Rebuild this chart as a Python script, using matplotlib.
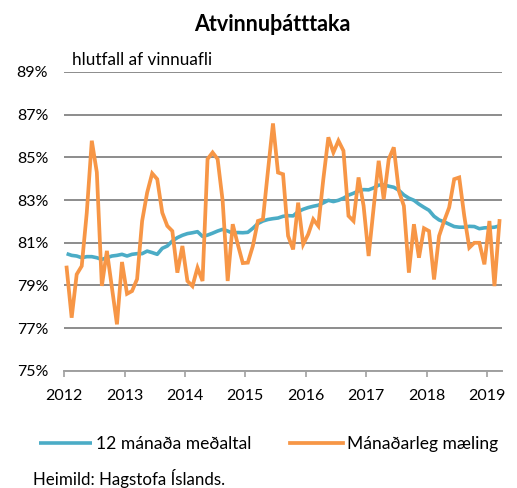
import matplotlib
matplotlib.use("Agg")
import matplotlib.pyplot as plt
import numpy as np

# monthly data, Jan 2012 - Mar 2019
years = ["2012", "2013", "2014", "2015", "2016", "2017", "2018", "2019"]

manadarleg = [
    79.84, 77.49, 79.52, 79.91, 82.4, 85.78, 84.3, 78.98, 80.62, 78.9, 77.18, 80.1,
    78.61, 78.74, 79.3, 82.02, 83.35, 84.25, 83.98, 82.41, 81.79, 81.55, 79.6, 80.85,
    79.21, 78.97, 79.83, 79.21, 84.92, 85.23, 84.92, 82.96, 79.21, 81.87, 80.93, 80.05,
    80.07, 80.85, 82.02, 82.1, 84.37, 86.59, 84.29, 84.21, 81.32, 80.69, 82.88, 80.93,
    81.4, 82.1, 81.79, 83.98, 85.94, 85.23, 85.78, 85.31, 82.26, 82.02, 84.06, 82.73,
    80.38, 82.65, 84.84, 83.04, 84.92, 85.47, 83.43, 82.73, 79.6, 81.87, 80.3, 81.68,
    81.55, 79.28, 81.32, 82.02, 82.65, 83.98, 84.06, 82.26, 80.77, 81.0, 81.0, 79.99,
    82.02, 78.97, 82.02,
]

medaltal = [
    80.49, 80.41, 80.38, 80.3, 80.35, 80.35, 80.3, 80.22, 80.3, 80.38, 80.41, 80.46,
    80.38, 80.46, 80.49, 80.49, 80.61, 80.54, 80.46, 80.74, 80.85, 81.08, 81.24, 81.35,
    81.43, 81.47, 81.52, 81.3, 81.36, 81.45, 81.55, 81.63, 81.55, 81.45, 81.48, 81.47,
    81.49, 81.68, 81.9, 82.02, 82.09, 82.13, 82.16, 82.24, 82.27, 82.26, 82.46, 82.57,
    82.65, 82.71, 82.76, 82.87, 82.99, 82.93, 82.99, 83.09, 83.23, 83.32, 83.43, 83.49,
    83.48, 83.57, 83.7, 83.72, 83.65, 83.6, 83.46, 83.24, 83.09, 82.99, 82.81, 82.66,
    82.52, 82.24, 82.07, 81.98, 81.87, 81.76, 81.73, 81.73, 81.77, 81.76, 81.66, 81.7,
    81.71, 81.73, 81.79,
]

plt.rcParams["font.family"] = ["Lato", "DejaVu Sans"]

BLUE = "#4BACC6"
ORANGE = "#F79646"

fig = plt.figure(figsize=(5.17, 4.88), dpi=100)
ax = fig.add_axes([0.124, 0.24, 0.847, 0.6125])

x = np.arange(len(manadarleg))
ax.plot(x, medaltal, color=BLUE, lw=2.6, solid_capstyle="butt", label="12 mánaða meðaltal", zorder=3)
ax.plot(x, manadarleg, color=ORANGE, lw=2.7, solid_joinstyle="miter", label="Mánaðarleg mæling", zorder=4)

ax.set_ylim(75, 89)
ax.set_yticks(np.arange(75, 90, 2))
ax.set_yticklabels(["%d%%" % v for v in range(75, 90, 2)], fontsize=11.5)
ax.yaxis.grid(True, color="#8c8c8c", lw=1.4)
ax.set_axisbelow(True)

ax.set_xlim(-0.5, len(manadarleg) - 0.5)
ax.set_xticks([-0.5 + 12 * k for k in range(len(years))])
ax.set_xticklabels(years, fontsize=11.5)

for s in ["left", "right", "top"]:
    ax.spines[s].set_visible(False)
ax.spines["bottom"].set_color("#a0a0a0")
ax.spines["bottom"].set_linewidth(1.4)
ax.tick_params(axis="y", length=0, pad=11.5)
ax.tick_params(axis="x", direction="out", length=4, color="#a0a0a0", width=1.2, pad=9)

fig.text(0.527, 0.95, "Atvinnuþátttaka", ha="center", va="center", fontsize=15.5, fontweight="bold")
fig.text(0.139, 0.877, "hlutfall af vinnuafli", ha="left", va="center", fontsize=12.3)

fig.legend(loc="center", bbox_to_anchor=(0.52, 0.09), ncol=2, frameon=False, fontsize=12.6,
           handlelength=3.0, columnspacing=2.2, handletextpad=0.25)

fig.text(0.064, 0.02, "Heimild: Hagstofa Íslands.", ha="left", va="center", fontsize=12.2)

fig.savefig("out.png", dpi=100)
